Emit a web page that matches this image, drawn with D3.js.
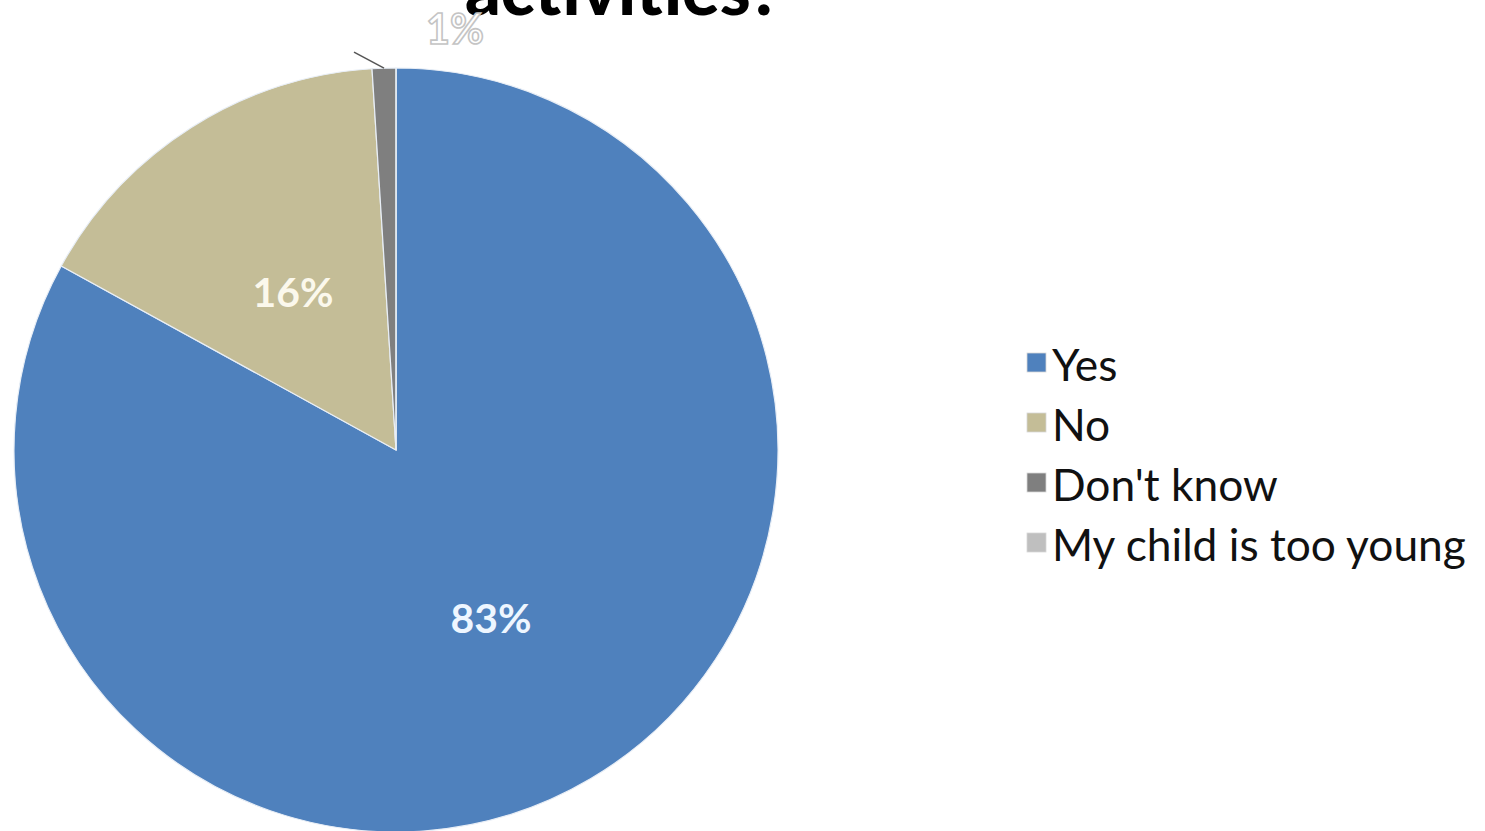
<!DOCTYPE html>
<html><head><meta charset="utf-8">
<script src="https://cdn.jsdelivr.net/npm/d3@7"></script>
<style>html,body{margin:0;padding:0;background:#fff;overflow:hidden}</style>
</head><body>
<svg id="c" width="1485" height="831"></svg>
<script>
const categories = ["Yes", "No", "Don't know", "My child is too young"];
const values = [83, 16, 1, 0];
const labels = ["83%", "16%", "1%", ""];
const colors = ["#4F81BD", "#C4BD97", "#7F7F7F", "#BFBFBF"];
const titleText = "activities?";

const svg = d3.select("#c");
const font = "Lato, 'Open Sans', sans-serif";
const cx = 396, cy = 450, r = 382;

function fit(sel, target) {
  const fs = parseFloat(sel.attr("font-size"));
  const w = sel.node().getComputedTextLength();
  sel.attr("font-size", fs * target / w);
}

// title (partly cut off at top)
const t = svg.append("text").attr("x", 465).attr("y", 15)
  .attr("font-family", font).attr("font-weight", 900).attr("font-size", 60)
  .attr("fill", "#000").text(titleText);
fit(t, 317);

const pie = d3.pie().sort(null).value(d => d)
  .startAngle(0).endAngle(2 * Math.PI);
const arcs = pie(values);
const arc = d3.arc().innerRadius(0).outerRadius(r);
const g = svg.append("g").attr("transform", `translate(${cx},${cy})`);
g.selectAll("path").data(arcs).enter().append("path")
  .attr("d", arc).attr("fill", (d, i) => colors[i])
  .attr("stroke", "#e8eef6").attr("stroke-width", 1.2);

// inner labels
const labelPos = [[95, 167], [-103, -159]];
const inner = [0, 1];
const lblArc = d3.arc().innerRadius(r * 0.55).outerRadius(r * 0.55);
inner.forEach(i => {
  const c = i === 0 ? d3.arc().innerRadius(r*0.5).outerRadius(r*0.5).centroid(arcs[i])
                    : d3.arc().innerRadius(r*0.5).outerRadius(r*0.5).centroid(arcs[i]);
  const txt = g.append("text")
    .attr("x", labelPos[i][0]).attr("y", labelPos[i][1])
    .attr("text-anchor", "middle").attr("dominant-baseline", "central")
    .attr("font-family", font).attr("font-weight", 700).attr("font-size", 40)
    .attr("fill", i === 0 ? "#eef6ff" : "#fbf8ec").text(labels[i]);
  fit(txt, 81);
});

// outside label for "Don't know" with leader line
const a2 = arcs[2];
const mid = (a2.startAngle + a2.endAngle) / 2;
const p0 = [Math.sin(mid) * r, -Math.cos(mid) * r];
g.append("line").attr("x1", p0[0]).attr("y1", p0[1])
  .attr("x2", p0[0] - 30).attr("y2", p0[1] - 16)
  .attr("stroke", "#555").attr("stroke-width", 1.5);
const l1 = svg.append("text").attr("x", 455).attr("y", 28)
  .attr("text-anchor", "middle").attr("dominant-baseline", "central")
  .attr("font-family", font).attr("font-weight", 700).attr("font-size", 36)
  .attr("fill", "#fff").attr("stroke", "#c4c4c4").attr("stroke-width", 1.6)
  .text(labels[2]);
fit(l1, 58);

// legend
const leg = svg.append("g");
const ys = d3.scalePoint().domain(categories).range([363, 543]);
categories.forEach((c, i) => {
  const y = ys(c);
  leg.append("rect").attr("x", 1027).attr("y", y - 10).attr("width", 19).attr("height", 19)
    .attr("fill", colors[i]).attr("stroke", "#d8d8d8").attr("stroke-width", 0.8);
  const tx = leg.append("text").attr("x", 1052).attr("y", y)
    .attr("dominant-baseline", "central")
    .attr("font-family", font).attr("font-size", 42).attr("fill", "#111").text(c);
  if (i === 3) fit(tx, 414);
});
// apply same size to all legend texts
const fsLeg = leg.selectAll("text").filter((d, i) => i === 3).attr("font-size");
leg.selectAll("text").attr("font-size", fsLeg);
</script>
</body></html>
